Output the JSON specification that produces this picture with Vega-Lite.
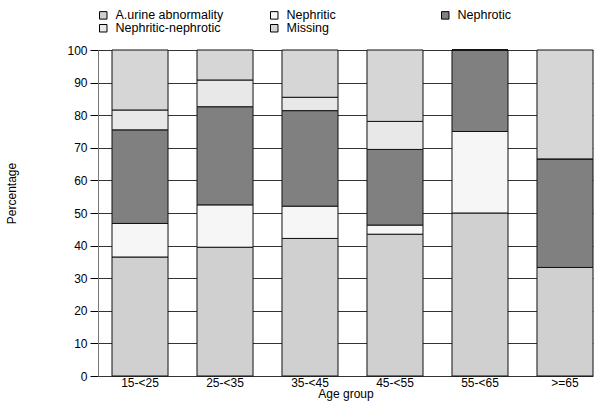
{
  "$schema": "https://vega.github.io/schema/vega-lite/v6.json",
  "width": 495,
  "height": 326,
  "autosize": {"type": "none"},
  "padding": {"left": 98, "top": 50, "right": 10, "bottom": 29},
  "background": "white",
  "config": {
    "font": "Liberation Sans",
    "view": {"stroke": null},
    "axis": {"labelColor": "black", "titleColor": "black", "labelFontSize": 12, "titleFontSize": 12, "titleFontWeight": "normal"}
  },
  "data": {
    "values": [
      {"age": "15-<25", "type": "A.urine abnormality", "k": 1, "pct": 36.5},
      {"age": "15-<25", "type": "Nephritic", "k": 2, "pct": 10.3},
      {"age": "15-<25", "type": "Nephrotic", "k": 3, "pct": 28.7},
      {"age": "15-<25", "type": "Nephritic-nephrotic", "k": 4, "pct": 6.1},
      {"age": "15-<25", "type": "Missing", "k": 5, "pct": 18.4},
      {"age": "25-<35", "type": "A.urine abnormality", "k": 1, "pct": 39.5},
      {"age": "25-<35", "type": "Nephritic", "k": 2, "pct": 13.0},
      {"age": "25-<35", "type": "Nephrotic", "k": 3, "pct": 30.1},
      {"age": "25-<35", "type": "Nephritic-nephrotic", "k": 4, "pct": 8.2},
      {"age": "25-<35", "type": "Missing", "k": 5, "pct": 9.2},
      {"age": "35-<45", "type": "A.urine abnormality", "k": 1, "pct": 42.2},
      {"age": "35-<45", "type": "Nephritic", "k": 2, "pct": 9.9},
      {"age": "35-<45", "type": "Nephrotic", "k": 3, "pct": 29.3},
      {"age": "35-<45", "type": "Nephritic-nephrotic", "k": 4, "pct": 4.1},
      {"age": "35-<45", "type": "Missing", "k": 5, "pct": 14.5},
      {"age": "45-<55", "type": "A.urine abnormality", "k": 1, "pct": 43.5},
      {"age": "45-<55", "type": "Nephritic", "k": 2, "pct": 2.8},
      {"age": "45-<55", "type": "Nephrotic", "k": 3, "pct": 23.2},
      {"age": "45-<55", "type": "Nephritic-nephrotic", "k": 4, "pct": 8.6},
      {"age": "45-<55", "type": "Missing", "k": 5, "pct": 21.9},
      {"age": "55-<65", "type": "A.urine abnormality", "k": 1, "pct": 50.0},
      {"age": "55-<65", "type": "Nephritic", "k": 2, "pct": 25.0},
      {"age": "55-<65", "type": "Nephrotic", "k": 3, "pct": 25.0},
      {"age": "55-<65", "type": "Nephritic-nephrotic", "k": 4, "pct": 0},
      {"age": "55-<65", "type": "Missing", "k": 5, "pct": 0},
      {"age": ">=65", "type": "A.urine abnormality", "k": 1, "pct": 33.3},
      {"age": ">=65", "type": "Nephritic", "k": 2, "pct": 0},
      {"age": ">=65", "type": "Nephrotic", "k": 3, "pct": 33.3},
      {"age": ">=65", "type": "Nephritic-nephrotic", "k": 4, "pct": 0},
      {"age": ">=65", "type": "Missing", "k": 5, "pct": 33.4}
    ]
  },
  "mark": {"type": "bar", "stroke": "#111", "strokeWidth": 1},
  "encoding": {
    "x": {
      "field": "age", "type": "nominal", "sort": null,
      "scale": {"paddingInner": 0.341, "paddingOuter": 0.0824, "align": 1},
      "axis": {"title": "Age group", "labelAngle": 0, "ticks": false, "domain": false, "labelPadding": 1, "titlePadding": 0}
    },
    "y": {
      "field": "pct", "type": "quantitative", "stack": "zero",
      "scale": {"domain": [0, 100], "nice": false},
      "axis": {
        "title": "Percentage", "values": [0, 10, 20, 30, 40, 50, 60, 70, 80, 90, 100],
        "tickSize": 8, "tickColor": "black", "labelPadding": 3,
        "domainColor": "#777", "gridColor": "#333", "grid": true,
        "titleX": -80, "titleY": 143, "titleAngle": -90
      }
    },
    "color": {
      "field": "type", "type": "nominal",
      "scale": {
        "domain": ["A.urine abnormality", "Nephritic", "Nephrotic", "Nephritic-nephrotic", "Missing"],
        "range": ["#d0d0d0", "#f6f6f6", "#808080", "#e8e8e8", "#d6d6d6"]
      },
      "legend": {
        "title": null, "orient": "none", "legendX": -1, "legendY": -41,
        "direction": "horizontal", "columns": 3, "gridAlign": "all",
        "columnPadding": 44, "rowPadding": 0,
        "symbolType": "square", "symbolSize": 56, "symbolStrokeColor": "black", "symbolStrokeWidth": 1,
        "labelFontSize": 12.5, "labelColor": "black", "labelOffset": 6, "labelBaseline": "middle"
      }
    },
    "order": {"field": "k", "type": "quantitative"}
  }
}
